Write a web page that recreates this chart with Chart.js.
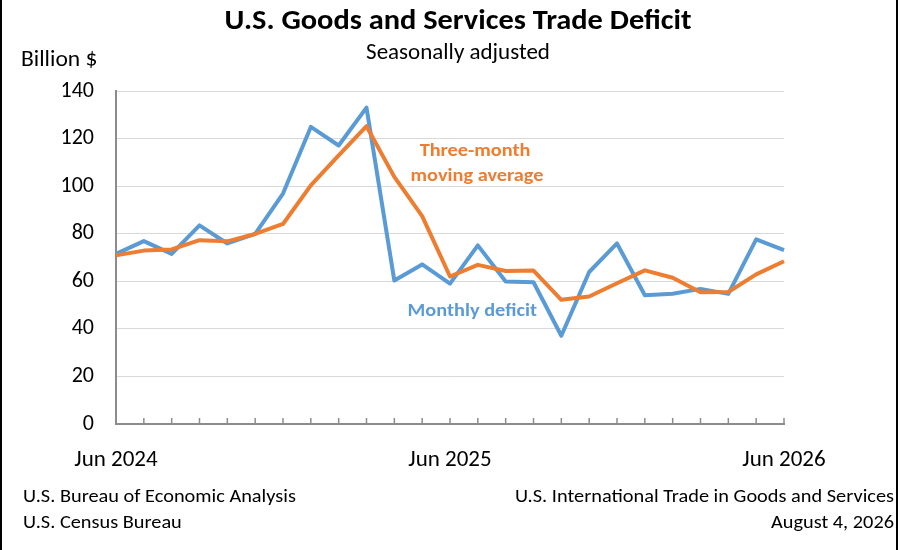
<!DOCTYPE html>
<html>
<head>
<meta charset="utf-8">
<script src="https://cdn.jsdelivr.net/npm/chart.js@4"></script>
<style>
  html, body { margin: 0; padding: 0; background: #fff; }
  #chart { display: block; }
</style>
</head>
<body>
<canvas id="chart" width="900" height="550"></canvas>
<script>
// Monthly points, Jun 2024 - Jun 2026
const months = [
    "Jun 2024", "Jul 2024", "Aug 2024", "Sep 2024", "Oct 2024", "Nov 2024", "Dec 2024",
    "Jan 2025", "Feb 2025", "Mar 2025", "Apr 2025", "May 2025", "Jun 2025", "Jul 2025",
    "Aug 2025", "Sep 2025", "Oct 2025", "Nov 2025", "Dec 2025", "Jan 2026", "Feb 2026",
    "Mar 2026", "Apr 2026", "May 2026", "Jun 2026"
];
const monthlyDeficit = [71.5, 76.9, 71.5, 83.5, 75.9, 79.9, 96.9, 124.9, 117.1, 133.0, 60.3, 67.1, 59.0,
    75.1, 59.9, 59.6, 37.1, 63.9, 75.9, 54.1, 54.8, 56.8, 54.7, 77.6, 73.1];
const movingAverage = [70.9, 72.9, 73.4, 77.3, 76.8, 79.9, 84.1, 100.3, 112.9, 125.2, 103.9, 87.4, 62.0,
    66.9, 64.3, 64.5, 52.2, 53.6, 59.2, 64.6, 61.5, 55.4, 55.5, 62.9, 68.4];
const yTicks = [0, 20, 40, 60, 80, 100, 120, 140];

const titleText = "U.S. Goods and Services Trade Deficit";
const subtitleText = "Seasonally adjusted";
const unitText = "Billion $";
const footLeft = ["U.S. Bureau of Economic Analysis", "U.S. Census Bureau"];
const footRight = ["U.S. International Trade in Goods and Services", "August 4, 2026"];

const FONT = "Carlito, Calibri, Lato, sans-serif";
const BLUE = '#5b9bd5';
const ORANGE = '#ed7d31';
const STRETCH = 1.07; // reference text is a little wide

// series labels, placed in data units (category index, value)
const seriesLabels = [
    {text: "Three-month", x: 12.9, y: 114.8, color: ORANGE},
    {text: "moving average", x: 12.97, y: 104.2, color: ORANGE},
    {text: "Monthly deficit", x: 12.8, y: 47.5, color: BLUE}
];

function drawText(ctx, text, x, y, align, font, sx) {
    ctx.save();
    ctx.translate(x, y);
    ctx.scale(sx, 1);
    ctx.font = font;
    ctx.textAlign = align;
    ctx.textBaseline = 'middle';
    ctx.fillText(text, 0, 0);
    ctx.restore();
}

const decorPlugin = {
    id: 'decor',
    beforeDatasetsDraw(chart) {
        // small tick marks pointing up into the plot
        const ctx = chart.ctx;
        const xs = chart.scales.x;
        const bottom = chart.chartArea.bottom;
        ctx.save();
        ctx.strokeStyle = '#8c8c8c';
        ctx.lineWidth = 1.5;
        for (let i = 1; i < months.length; i++) {
            const px = xs.getPixelForValue(i);
            ctx.beginPath();
            ctx.moveTo(px, bottom);
            ctx.lineTo(px, bottom - 6);
            ctx.stroke();
        }
        ctx.restore();
    },
    afterDraw(chart) {
        const ctx = chart.ctx;
        const xs = chart.scales.x, ys = chart.scales.y;
        ctx.save();
        ctx.fillStyle = '#000';

        drawText(ctx, titleText, 458, 22, 'center', 'bold 28.4px ' + FONT, STRETCH);
        drawText(ctx, subtitleText, 458, 54, 'center', '21.5px ' + FONT, STRETCH);
        drawText(ctx, unitText, 21, 60, 'left', '22px ' + FONT, STRETCH);

        drawText(ctx, footLeft[0], 23, 497, 'left', '19px ' + FONT, STRETCH);
        drawText(ctx, footLeft[1], 23, 523, 'left', '19px ' + FONT, STRETCH);
        drawText(ctx, footRight[0], 894, 497, 'right', '19px ' + FONT, STRETCH);
        drawText(ctx, footRight[1], 894, 523, 'right', '19px ' + FONT, STRETCH);

        for (const lb of seriesLabels) {
            ctx.fillStyle = lb.color;
            drawText(ctx, lb.text, xs.getPixelForValue(lb.x), ys.getPixelForValue(lb.y),
                'center', 'bold 19px ' + FONT, STRETCH);
        }

        // frame edges
        ctx.fillStyle = '#000';
        ctx.fillRect(0, 0, 2, 550);
        ctx.fillRect(896, 0, 2, 550);
        ctx.restore();
    }
};

new Chart(document.getElementById('chart'), {
    type: 'line',
    data: {
        labels: months,
        datasets: [
            {
                label: 'Three-month moving average',
                data: movingAverage,
                borderColor: ORANGE,
                borderWidth: 4,
                pointRadius: 0,
                tension: 0,
                borderJoinStyle: 'round',
                order: 0
            },
            {
                label: 'Monthly deficit',
                data: monthlyDeficit,
                borderColor: BLUE,
                borderWidth: 4,
                pointRadius: 0,
                tension: 0,
                borderJoinStyle: 'round',
                order: 1
            }
        ]
    },
    options: {
        responsive: false,
        animation: false,
        devicePixelRatio: 1,
        layout: {padding: {top: 91, left: 0, right: 116, bottom: 0}},
        plugins: {
            legend: {display: false},
            tooltip: {enabled: false}
        },
        scales: {
            x: {
                offset: false,
                grid: {display: false},
                border: {color: '#8c8c8c', width: 2},
                ticks: {
                    autoSkip: false,
                    maxRotation: 0,
                    padding: 14,
                    color: '#000',
                    font: {family: FONT, size: 23},
                    callback: function (val, index) {
                        return months[index].startsWith('Jun') ? months[index] : '';
                    }
                },
                afterFit: s => { s.height = 126; }
            },
            y: {
                min: 0,
                max: 140,
                afterBuildTicks: s => { s.ticks = yTicks.map(v => ({value: v})); },
                grid: {color: '#d9d9d9', lineWidth: 1, drawTicks: false},
                border: {color: '#8c8c8c', width: 2},
                ticks: {
                    padding: 22,
                    color: '#000',
                    font: {family: FONT, size: 22}
                },
                afterFit: s => { s.width = 116; }
            }
        }
    },
    plugins: [decorPlugin]
});
</script>
</body>
</html>
